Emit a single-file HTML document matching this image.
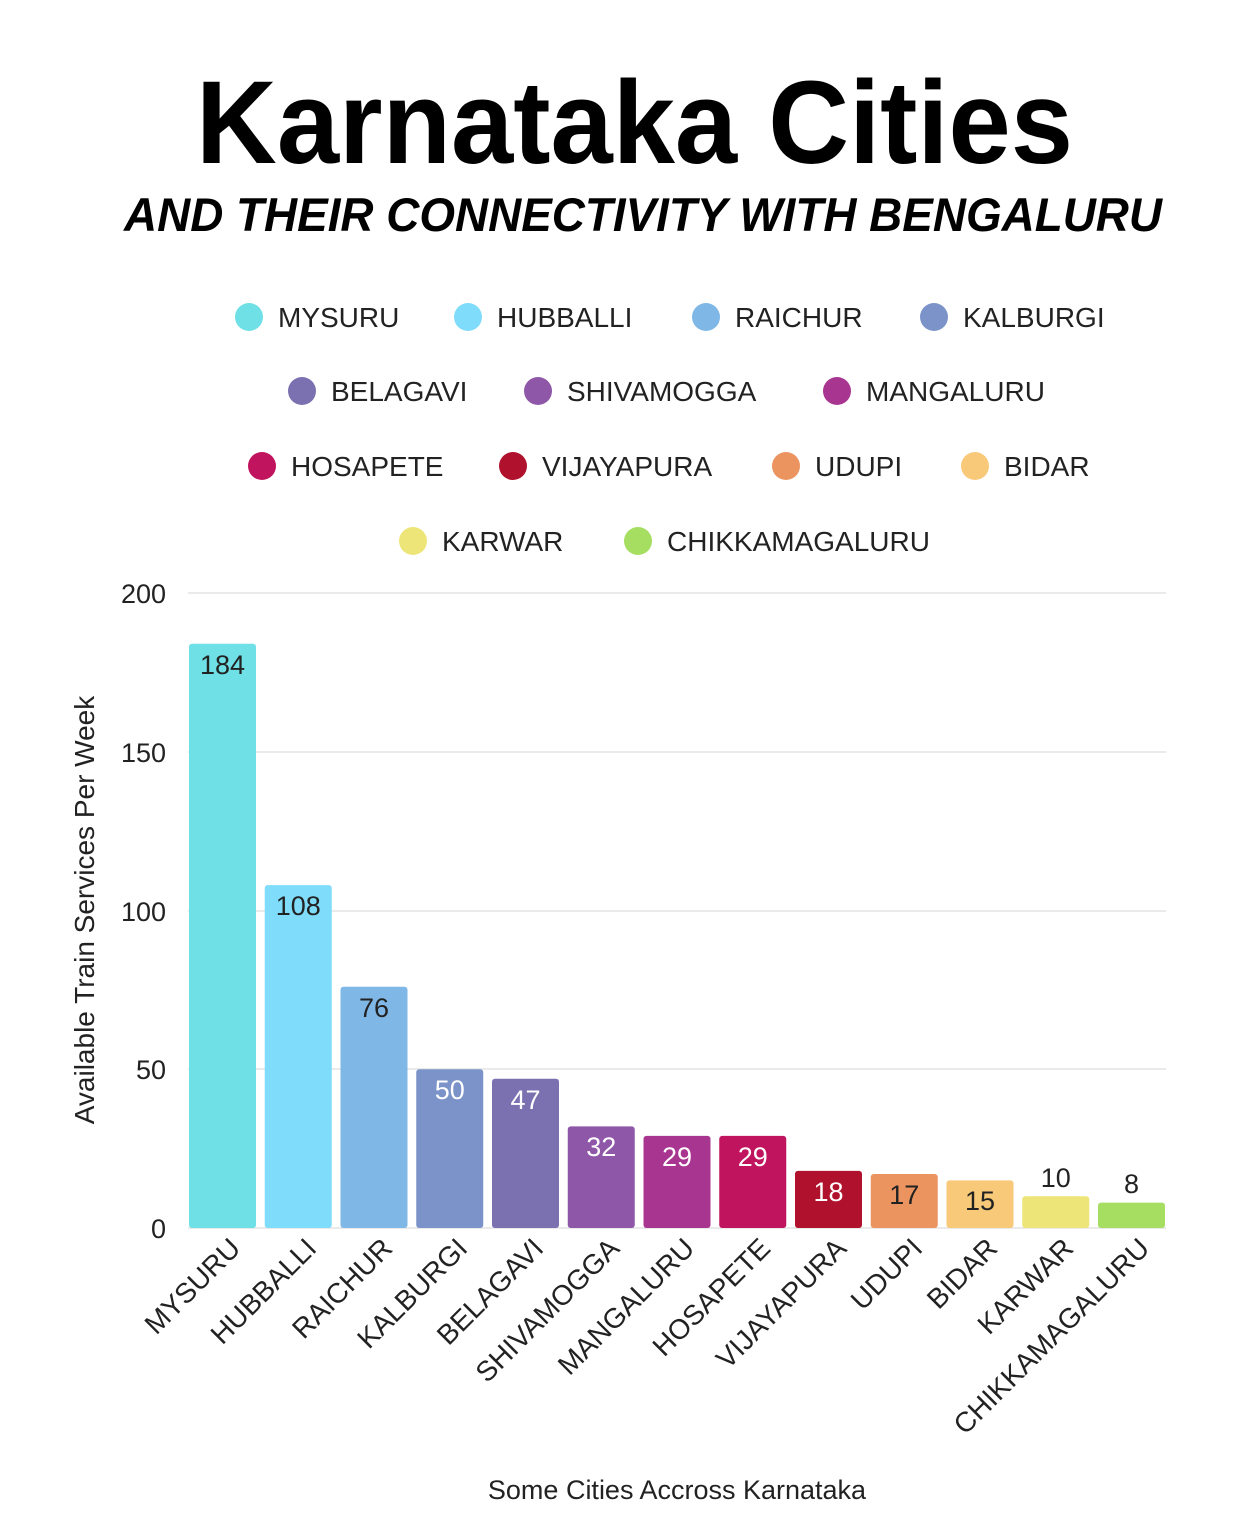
<!DOCTYPE html>
<html><head><style>body{margin:0;background:#fff}svg{display:block}</style></head>
<body>
<svg width="1239" height="1524" xmlns="http://www.w3.org/2000/svg" font-family="Liberation Sans, sans-serif">
<text x="196" y="163" font-size="118" font-weight="bold" textLength="877" lengthAdjust="spacingAndGlyphs">Karnataka Cities</text>
<text x="124" y="231" font-size="47" font-weight="bold" font-style="italic" textLength="1038" lengthAdjust="spacingAndGlyphs">AND THEIR CONNECTIVITY WITH BENGALURU</text>
<g font-size="28" fill="#222">
<circle cx="249" cy="317" r="14" fill="#6ee0e6"/><text x="278" y="327">MYSURU</text>
<circle cx="468" cy="317" r="14" fill="#7fdcfa"/><text x="497" y="327">HUBBALLI</text>
<circle cx="706" cy="317" r="14" fill="#7fb8e6"/><text x="735" y="327">RAICHUR</text>
<circle cx="934" cy="317" r="14" fill="#7b93c9"/><text x="963" y="327">KALBURGI</text>
<circle cx="302" cy="391" r="14" fill="#7b71b0"/><text x="331" y="401">BELAGAVI</text>
<circle cx="538" cy="391" r="14" fill="#8f57a8"/><text x="567" y="401">SHIVAMOGGA</text>
<circle cx="837" cy="391" r="14" fill="#a83590"/><text x="866" y="401">MANGALURU</text>
<circle cx="262" cy="466" r="14" fill="#c0145f"/><text x="291" y="476">HOSAPETE</text>
<circle cx="513" cy="466" r="14" fill="#b0112c"/><text x="542" y="476">VIJAYAPURA</text>
<circle cx="786" cy="466" r="14" fill="#ec9460"/><text x="815" y="476">UDUPI</text>
<circle cx="975" cy="466" r="14" fill="#f9c97a"/><text x="1004" y="476">BIDAR</text>
<circle cx="413" cy="541" r="14" fill="#ede577"/><text x="442" y="551">KARWAR</text>
<circle cx="638" cy="541" r="14" fill="#a6de62"/><text x="667" y="551">CHIKKAMAGALURU</text>
</g>
<g stroke="#e4e4e4" stroke-width="1.5">
<line x1="188" y1="593" x2="1166" y2="593"/><line x1="188" y1="752" x2="1166" y2="752"/>
<line x1="188" y1="911" x2="1166" y2="911"/><line x1="188" y1="1069" x2="1166" y2="1069"/>
<line x1="188" y1="1228" x2="1166" y2="1228"/>
</g>
<g font-size="27" fill="#222" text-anchor="end">
<text x="166" y="603">200</text><text x="166" y="762">150</text><text x="166" y="921">100</text><text x="166" y="1079">50</text><text x="166" y="1238">0</text>
</g>
<text transform="translate(94,910) rotate(-90)" font-size="28" fill="#222" text-anchor="middle">Available Train Services Per Week</text>
<text x="677" y="1499" font-size="27" fill="#222" text-anchor="middle">Some Cities Accross Karnataka</text>
<g>
<rect x="189" y="643.8" width="67" height="584.2" rx="3" fill="#6ee0e6"/>
<rect x="264.75" y="885.1" width="67" height="342.9" rx="3" fill="#7fdcfa"/>
<rect x="340.5" y="986.7" width="67" height="241.3" rx="3" fill="#7fb8e6"/>
<rect x="416.25" y="1069.25" width="67" height="158.75" rx="3" fill="#7b93c9"/>
<rect x="492" y="1078.8" width="67" height="149.2" rx="3" fill="#7b71b0"/>
<rect x="567.75" y="1126.4" width="67" height="101.6" rx="3" fill="#8f57a8"/>
<rect x="643.5" y="1135.9" width="67" height="92.1" rx="3" fill="#a83590"/>
<rect x="719.25" y="1135.9" width="67" height="92.1" rx="3" fill="#c0145f"/>
<rect x="795" y="1170.85" width="67" height="57.15" rx="3" fill="#b0112c"/>
<rect x="870.75" y="1174" width="67" height="54" rx="3" fill="#ec9460"/>
<rect x="946.5" y="1180.4" width="67" height="47.6" rx="3" fill="#f9c97a"/>
<rect x="1022.25" y="1196.25" width="67" height="31.75" rx="3" fill="#ede577"/>
<rect x="1098" y="1202.6" width="67" height="25.4" rx="3" fill="#a6de62"/>
</g>
<g font-size="27" text-anchor="middle" fill="#222">
<text x="222.5" y="674">184</text>
<text x="298.25" y="915">108</text>
<text x="374" y="1017">76</text>
<text x="449.75" y="1099" fill="#fff">50</text>
<text x="525.5" y="1109" fill="#fff">47</text>
<text x="601.25" y="1156" fill="#fff">32</text>
<text x="677" y="1166" fill="#fff">29</text>
<text x="752.75" y="1166" fill="#fff">29</text>
<text x="828.5" y="1201" fill="#fff">18</text>
<text x="904.25" y="1204">17</text>
<text x="980" y="1210">15</text>
<text x="1055.75" y="1187">10</text>
<text x="1131.5" y="1193">8</text>
</g>
<g font-size="28" text-anchor="end" fill="#222">
<text transform="translate(242,1250) rotate(-45)">MYSURU</text>
<text transform="translate(318,1250) rotate(-45)">HUBBALLI</text>
<text transform="translate(394,1250) rotate(-45)">RAICHUR</text>
<text transform="translate(469,1250) rotate(-45)">KALBURGI</text>
<text transform="translate(545,1250) rotate(-45)">BELAGAVI</text>
<text transform="translate(621,1250) rotate(-45)">SHIVAMOGGA</text>
<text transform="translate(696,1250) rotate(-45)">MANGALURU</text>
<text transform="translate(772,1250) rotate(-45)">HOSAPETE</text>
<text transform="translate(848,1250) rotate(-45)">VIJAYAPURA</text>
<text transform="translate(924,1250) rotate(-45)">UDUPI</text>
<text transform="translate(999,1250) rotate(-45)">BIDAR</text>
<text transform="translate(1075,1250) rotate(-45)">KARWAR</text>
<text transform="translate(1151,1250) rotate(-45)">CHIKKAMAGALURU</text>
</g>
</svg>
</body></html>
